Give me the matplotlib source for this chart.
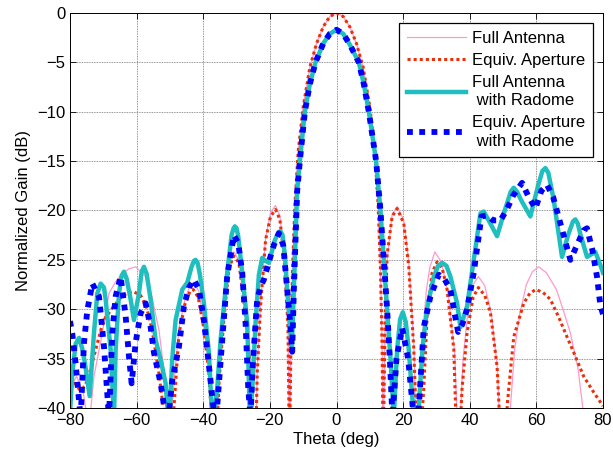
import matplotlib
matplotlib.use("Agg")
import matplotlib.pyplot as plt

plt.rcParams['font.family'] = ['Liberation Sans', 'DejaVu Sans']
plt.rcParams['font.size'] = 12

# ---------------- data ----------------
theta_fa = [-80, -78, -76, -74.3, -72.8, -70.3, -68.3, -66.3, -64.5, -62.3, -60.3, -57.5, -55.5, -53.3, -51.3, -50.2,
            -48.8, -47.3, -45.5, -44, -42.8, -41.3, -39.8, -38.3, -36.4,
            -35, -33.8, -32.3, -30.8, -29, -27.8, -25.8, -24.4,
            -23.8, -22.8, -21.3, -19.8, -18.3, -17, -15.8, -14.6, -14.1,
            -13.7, -13.2, -12.5, -11.5, -10, -8, -6, -4, -2, 0, 2, 4, 6, 8, 10, 11.5, 12.5, 13.2, 13.7, 14,
            14.6, 15.2, 16.7, 18.2, 20.2, 21.7, 23.2, 24.1,
            25.5, 27, 28, 29.5, 31.5, 33.5, 35.5, 36.6,
            38, 39.5, 41, 42.6, 44.5, 46.5, 48.3, 49.4, 50.7,
            52.2, 53.5, 55, 57, 58.8, 60.7, 63, 66, 68, 70.2, 72.5, 74.3, 76, 80]
gain_fa = [-38, -36.8, -38.5, -42, -36.8, -32.4, -28.4, -27.2, -26.5, -25.9, -25.7, -26.6, -28.6, -32.1, -37.5, -44,
           -37.5, -32, -29, -27.6, -27.3, -28.2, -31.5, -36, -45,
           -36.5, -30.5, -25.5, -24.2, -25.2, -28.8, -35.5, -45,
           -36, -29.5, -22.8, -20.2, -19.5, -20.5, -24.3, -31, -45,
           -34, -26, -19.5, -14, -9.5, -5.5, -3.1, -1.4, -0.35, 0, -0.35, -1.4, -3.1, -5.5, -9.5, -14, -19.5, -26, -34, -45,
           -31, -25, -20.4, -19.6, -21, -25.3, -33.5, -45,
           -34, -28, -25.8, -24.2, -25.2, -28.5, -34.5, -45,
           -35, -30, -27.5, -26.7, -27.6, -30.5, -36, -45, -50,
           -40, -34, -30.5, -27.5, -26.2, -25.7, -26.3, -28, -30, -32.4, -36, -41, -47, -50]

theta_ea = [-80, -78.5, -77, -75.5, -74, -72.3, -70.5, -69.3, -67.3, -65, -63, -61, -58.8, -57, -55.3, -53.3, -51.8, -50.3,
            -48.8, -47.3, -45.5, -44, -43, -41.5, -39.8, -38.3, -36.5,
            -35.2, -33.8, -32.3, -30.8, -29.3, -27.8, -25.8, -24.5,
            -23.8, -22.8, -21.3, -19.8, -18.3, -17, -15.8, -14.6, -14.1,
            -13.7, -13.2, -12.5, -11.5, -10, -8, -6, -4, -2, 0, 2, 4, 6, 8, 10, 11.5, 12.5, 13.2, 13.7, 14,
            14.6, 15.2, 16.7, 18.2, 20.2, 21.7, 23.2, 24.5,
            26.2, 27.2, 28.7, 30.2, 31.7, 33.2, 35.2, 36.4,
            37.7, 39.2, 41, 42.6, 44.5, 46.2, 48.2, 50,
            51.3, 53.2, 56.2, 58, 59.8, 62, 64.2, 66.7, 69.2, 72, 74.2, 77, 80]
gain_ea = [-38, -37.5, -38.2, -37.8, -36.3, -34.1, -31.8, -30.8, -29.9, -28.9, -28.4, -28.2, -28.6, -29.8, -32.2, -36.5, -40.5, -47,
           -40, -32.5, -29.5, -28.2, -28, -28.8, -32, -36.5, -47,
           -37, -31, -25.8, -24.6, -25.3, -29.2, -36, -47,
           -36.5, -29.7, -23, -20.6, -19.9, -20.9, -24.5, -31.4, -45,
           -34, -26, -19.5, -14, -9.5, -5.5, -3.1, -1.4, -0.35, 0, -0.35, -1.4, -3.1, -5.5, -9.5, -14, -19.5, -26, -34, -45,
           -31, -24.5, -20.6, -19.8, -21.3, -25.7, -34, -47,
           -38, -30.7, -26.3, -25.2, -25.8, -28, -34, -47,
           -38, -32.4, -28.8, -27.8, -28.6, -30.3, -35.8, -48,
           -39.5, -32.8, -29.4, -28.4, -28, -28.3, -29, -30.8, -32.8, -35, -36.8, -38.3, -39.8]

theta_far = [-80, -79.3, -78.3, -77.3, -76.3, -75.5, -74.1, -72.8, -71.8, -70.8, -69.8, -69.3, -67.8, -66.8, -66.3, -65.3,
             -64.5, -63.8, -63, -61.8, -60.8, -59.3, -58.5, -57.8, -57, -55.8, -54.3, -52.8, -51.3, -50.3, -49.3, -48.3,
             -46.3, -44.8, -43.5, -42.8, -42.3, -41.7, -41, -39.8, -38.3, -37.2, -35.8, -34.8, -32.8, -31.5, -30.9,
             -30.5, -30, -29.5, -28.3, -26.8, -26, -25.3, -24.3,
             -23.3, -22.3, -21.3, -20.3, -18.5, -17.4, -16.8, -16.2, -15.5, -14.8, -13.4, -12.8, -12.3, -11.8, -11, -9.5, -8, -6.3,
             -4, -2, 0, 2, 4, 6.7, 8.2, 9.7, 11.9, 13.2, 14.2, 15.2, 16.2, 17.2, 18.2, 19.1, 19.9, 20.8, 21.7, 23.2,
             24.7, 25.8, 27.2, 29.2, 30.5, 31.7, 33, 34.2, 36.2, 37.2, 39.2, 41.2, 43.2, 44.2, 46, 48.2, 50.5, 52.3, 53.2, 54.2,
             55.5, 58.2, 60.5, 61.8, 62.7, 63.6, 65.2, 67.7, 69.5, 71, 71.7, 72.4, 73.3, 75.2, 77.7, 79.2, 80]
gain_far = [-40.5, -36.5, -33.5, -32.9, -34, -35.5, -38.8, -32.4, -28.4, -27.4, -27.8, -29, -34.1, -41, -34.1, -28.4,
            -26.6, -26.2, -26.9, -29, -31.1, -28.4, -26.2, -25.7, -26.4, -29, -33.1, -35.1, -37.5, -42, -35, -31.1,
            -28, -27.3, -25.7, -25.1, -25, -25.3, -26.5, -29.4, -34.4, -42, -38, -33.1, -26.3, -22.5, -21.8,
            -21.6, -21.8, -22.6, -26.3, -31.4, -41, -38.2, -31.4,
            -26.5, -24.8, -25.1, -25.3, -23, -22.2, -22.1, -22.5, -24.5, -28, -34, -28, -23, -18, -15, -10, -7.2, -5,
            -3.1, -2.1, -1.7, -2.1, -3.2, -5, -7.2, -10, -15, -20, -25, -30, -35, -41, -34.1, -31, -30.3, -31.3, -34.1, -41,
            -40, -34, -29.9, -26.7, -25.6, -25.3, -25.6, -26.7, -29.4, -31.8, -29.7, -25, -20.3, -20.1, -21.2, -22.6, -20, -18.1, -17.7, -18.1,
            -19, -20.6, -17.5, -16, -15.7, -16.2, -18.9, -24.7, -22.5, -21.1, -20.9, -21.3, -22.5, -24.7, -24.2, -25.5, -26.3]

theta_ear = [-80, -79.3, -78.3, -77.5, -76.8, -75.8, -74.8, -73.3, -71.3, -69.8, -68.3, -67.3, -66.3, -64.8, -63.3, -62.3,
             -61.5, -60.3, -58.8, -57.3, -55.8, -54.8, -52.8, -50.8, -49.3, -47.3, -45.8, -44.3, -42.8, -41.3, -39.8,
             -38.3, -36.3, -34.3, -32.8, -30.8, -29.5, -28.3, -27.3, -26.5, -25.8, -25.2, -24.3, -23.8, -22.8, -21.8,
             -20.3, -18.8, -17.3, -16, -14.8, -14, -13.3, -12.8, -12.3, -11.8, -11, -9.5, -8, -6.3, -4, -2, 0, 2, 4,
             6.7, 8.2, 9.7, 11.9, 13.2, 14.2, 15.2, 16, 16.8, 18, 19.7, 21.5, 23.2, 24.7, 26.2, 28.2, 30.7, 32.5, 34.2,
             35.5, 36.5, 37.8, 39.2, 41.2, 42.7, 43.5, 45.2, 47, 49.2, 51, 53, 55.7, 57.5, 59.7, 61.5, 63.2, 65, 67.2,
             70.2, 72.2, 74.2, 75.2, 76.8, 78.2, 79.2, 80]
gain_ear = [-31.2, -32.5, -35.5, -38.5, -41, -33.4, -30.1, -27.4, -28.7, -33.8, -41, -32.4, -28.7, -26.7, -30.7, -34.8,
            -37.5, -33.4, -30.4, -29.4, -31.8, -34.4, -37.5, -42, -37.2, -33.8, -29.7, -27.8, -27, -28, -31.1,
            -35.7, -42, -33.1, -26.6, -22.5, -23.3, -26.3, -31.4, -38, -41, -36, -31.4, -29, -27.7, -27,
            -25.2, -23.5, -22.3, -23.5, -28, -31, -34.3, -28, -23, -18, -15, -10, -7.2, -5, -3.1, -2.1, -1.7, -2.1, -3.2,
            -5, -7.2, -10, -15, -20, -25, -30, -35, -41, -35, -31.9, -35, -41, -40, -31.8, -28.7, -26.5, -27, -28,
            -30.5, -32.3, -31.5, -30, -26.3, -22.6, -20.6, -20.5, -21, -21, -20, -18.5, -17.2, -18.5, -19.8, -18, -17.4, -18.6, -21.3,
            -25, -23.5, -22, -21.8, -24, -26.7, -29.6, -30.5]

labels = ['Full Antenna', 'Equiv. Aperture', 'Full Antenna\n with Radome', 'Equiv. Aperture\n with Radome']
x_ticks = [-80, -60, -40, -20, 0, 20, 40, 60, 80]
y_ticks = [-40, -35, -30, -25, -20, -15, -10, -5, 0]

# ---------------- figure ----------------
fig = plt.figure(figsize=(6.13, 4.57), dpi=100)
ax = fig.add_axes([70 / 613, 1 - 408 / 457, 533 / 613, 395 / 457])

ax.plot(theta_fa, gain_fa, color='#ff99cc', lw=0.9, label=labels[0])
ax.plot(theta_ea, gain_ea, color='#e8300a', lw=2.2, linestyle=(0, (1, 1)), label=labels[1])
ax.plot(theta_far, gain_far, color='#1fbfbf', lw=3.2, label=labels[2], solid_joinstyle='round')
ax.plot(theta_ear, gain_ear, color='#0000ff', lw=4.2, linestyle=(0, (1, 1.1)), label=labels[3])

ax.set_xlim(-80, 80)
ax.set_ylim(-40, 0)
ax.set_xticks(x_ticks)
ax.set_yticks(y_ticks)
ax.grid(True, color='0.45', linestyle=(0, (1, 1)), linewidth=0.6)
ax.set_axisbelow(True)
ax.tick_params(direction='in', top=True, right=True, length=4, width=0.6, labelsize=12)
for s in ax.spines.values():
    s.set_linewidth(0.7)
    s.set_color('black')
ax.set_xlabel('Theta (deg)', fontsize=12, labelpad=3)
ax.set_ylabel('Normalized Gain (dB)', fontsize=12, labelpad=4)

leg = ax.legend(loc='upper right', fancybox=False, edgecolor='black', framealpha=1,
                handlelength=3.5, borderaxespad=0.6, labelspacing=0.4, handletextpad=0.35,
                borderpad=0.5, fontsize=12)
for t in leg.get_texts():
    t.set_linespacing(1.3)
leg.get_frame().set_linewidth(0.9)

fig.savefig('out.png', dpi=100)
